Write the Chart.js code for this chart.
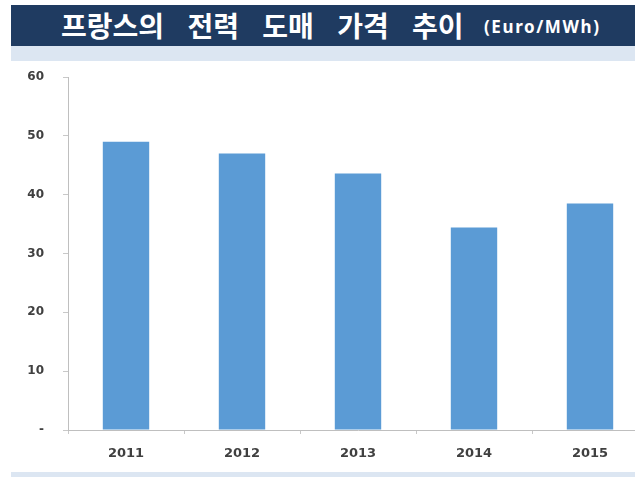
<!DOCTYPE html>
<html>
<head>
<meta charset="utf-8">
<script src="https://cdn.jsdelivr.net/npm/chart.js@4"></script>
<style>
  html, body { margin: 0; padding: 0; background: #ffffff; }
  body { width: 635px; height: 477px; overflow: hidden; position: relative; }
  .title-bar {
    position: absolute; left: 11px; top: 5px; width: 624px; height: 41px;
    background: #1f3b61; color: #ffffff; white-space: nowrap;
  }
  .title-main {
    position: absolute; left: 50px; top: 1px;
    font-family: "Noto Sans CJK KR", sans-serif; font-weight: bold; font-size: 28px;
    line-height: 38px; word-spacing: 17px;
  }
  .title-unit {
    position: absolute; left: 473px; top: 3px; letter-spacing: 1.6px;
    font-family: "Noto Sans", sans-serif; font-weight: bold; font-size: 17px; line-height: 38px;
  }
  .strip { position: absolute; left: 11px; width: 624px; background: #dce6f2; }
  .wrap { position: absolute; left: 0; top: 61px; width: 660px; height: 410px; }
</style>
</head>
<body>
<div class="title-bar">
  <span class="title-main">프랑스의 전력 도매 가격 추이</span>
  <span class="title-unit">(Euro/MWh)</span>
</div>
<div class="strip" style="top:46px;height:15px;"></div>
<div class="wrap"><canvas id="chart" width="660" height="410"></canvas></div>
<div class="strip" style="top:472px;height:5px;"></div>
<script>
const years = ['2011', '2012', '2013', '2014', '2015'];
const prices = [49, 47, 43.6, 34.4, 38.5];
const yTicks = [0, 10, 20, 30, 40, 50, 60];

document.addEventListener('DOMContentLoaded', function() {
    const ctx = document.getElementById('chart');
    new Chart(ctx, {
        type: 'bar',
        data: {
            labels: years,
            datasets: [{
                label: 'Euro/MWh',
                data: prices,
                backgroundColor: '#5b9bd5',
                borderWidth: 0,
                categoryPercentage: 1.0,
                barPercentage: 0.4
            }]
        },
        options: {
            responsive: false,
            animation: false,
            layout: { padding: { top: 16, right: 12, left: 0, bottom: 0 } },
            plugins: {
                legend: { display: false },
                tooltip: { enabled: false }
            },
            scales: {
                x: {
                    afterFit: function(scale) { scale.height = 41; },
                    grid: {
                        offset: true,
                        drawOnChartArea: false,
                        drawTicks: true,
                        tickLength: 4,
                        color: '#c8c8c8'
                    },
                    border: { display: true, color: '#bfbfbf', width: 1 },
                    ticks: {
                        color: '#404040',
                        padding: 12,
                        font: { family: 'DejaVu Sans', weight: 'bold', size: 13 }
                    }
                },
                y: {
                    min: 0,
                    max: 60,
                    afterFit: function(scale) {
                        scale.width = 68;
                        scale.paddingTop = 0;
                        scale.paddingBottom = 0;
                    },
                    afterBuildTicks: function(scale) {
                        scale.ticks = yTicks.map(v => ({ value: v }));
                    },
                    grid: {
                        drawOnChartArea: false,
                        drawTicks: true,
                        tickLength: 5,
                        color: '#c8c8c8'
                    },
                    border: { display: true, color: '#bfbfbf', width: 1 },
                    ticks: {
                        color: '#404040',
                        padding: 19,
                        font: { family: 'DejaVu Sans', weight: 'bold', size: 12 },
                        callback: function(value) { return value === 0 ? '-' : value; }
                    }
                }
            }
        }
    });
});
</script>
</body>
</html>
